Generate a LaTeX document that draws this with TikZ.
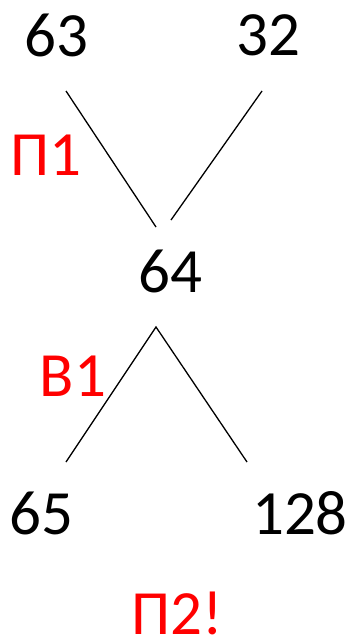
\documentclass[tikz,border=0pt]{standalone}
\usepackage{fontspec}
\setmainfont{Carlito}
\begin{document}
\begin{tikzpicture}[x=1pt,y=-1pt,line width=1.3pt,every node/.style={font=\fontsize{63}{76}\selectfont,inner sep=0pt}]
\useasboundingbox (0,0) rectangle (351,640);
\coordinate (A1) at (66,91);
\coordinate (A2) at (156,227);
\coordinate (B1) at (262,91);
\coordinate (B2) at (171,220);
\coordinate (T) at (156,327);
\coordinate (L) at (66,462);
\coordinate (R) at (247,462);
\draw (A1) -- (A2);
\draw (B1) -- (B2);
\draw (L) -- (T) -- (R);
\node (n63) at (56,35) {63};
\node (n32) at (268,35) {32};
\node (n64) at (170,271) {64};
\node (n65) at (41.5,513) {65};
\node (n128) at (300,513) {128};
\begin{scope}[red]
\node (p1) at (46,155.5) {П1};
\node (v1) at (73,376) {В1};
\node (p2) at (177,613) {П2!};
\end{scope}
\end{tikzpicture}
\end{document}
